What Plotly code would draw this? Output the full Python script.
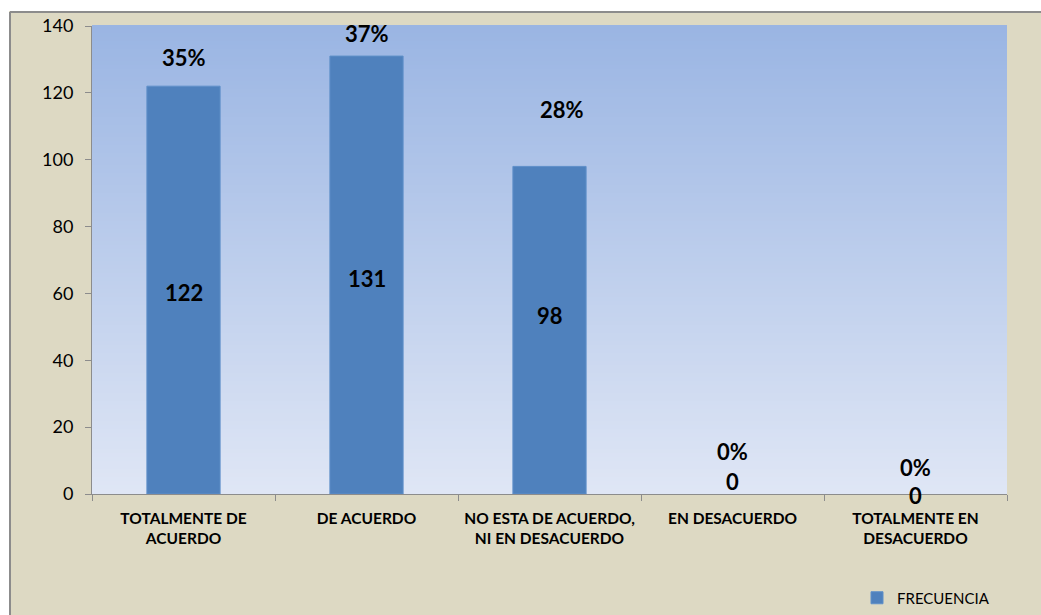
import plotly.graph_objects as go

# Survey answers and their counts
categories = [
    "TOTALMENTE DE<br>ACUERDO",
    "DE ACUERDO",
    "NO ESTA DE ACUERDO,<br>NI EN DESACUERDO",
    "EN DESACUERDO",
    "TOTALMENTE EN<br>DESACUERDO",
]
frecuencia = [122, 131, 98, 0, 0]
series_name = "FRECUENCIA"
y_ticks = [0, 20, 40, 60, 80, 100, 120, 140]

# Where the hand-placed labels sit (in axis units) and nudges (px)
pct_label_y = [130.7, 137.9, 114.9, 12.6, 7.8]
pct_label_dx = [0, 0, 12, 0, 0]
count_label_y = [60.4, 64.6, 53.5, 3.6, 0.0]
count_label_dy = [0, 0, 0, 0, -1]

total = sum(frecuencia)
porcentajes = [f"{round(v / total * 100)}%" for v in frecuencia]

FONT = "Lato, 'Open Sans', sans-serif"
BEIGE = "#DDD9C3"
BAR = "#4F81BD"

# Figure pixel geometry
W, H = 1041, 615
ML, MR, MT, MB = 92, 34, 26, 121
PW, PH = W - ML - MR, H - MT - MB


def px_x(x):
    return (x - ML) / PW


def px_y(y):
    return (H - MB - y) / PH


fig = go.Figure()
fig.add_trace(go.Bar(
    x=categories,
    y=frecuencia,
    name=series_name,
    width=0.4,
    marker=dict(color=BAR,
                line=dict(color="#5E8FC9", width=[1 if v > 0 else 0 for v in frecuencia])),
    showlegend=True,
))

shapes = []
# Vertical gradient in the plotting area
top_rgb = (154, 181, 227)
bot_rgb = (223, 230, 245)
n = 117
for i in range(n):
    t = i / (n - 1)
    c = tuple(round(top_rgb[k] + (bot_rgb[k] - top_rgb[k]) * t) for k in range(3))
    shapes.append(dict(
        type="rect", xref="paper", yref="paper",
        x0=0, x1=1, y0=1 - (i + 1) / n, y1=1 - i / n + 0.002,
        fillcolor=f"rgb{c}", line=dict(width=0), layer="below",
    ))

# White margin strips outside the chart frame and the frame lines
shapes.append(dict(type="rect", xref="paper", yref="paper",
                   x0=px_x(-5), x1=px_x(W + 5), y0=px_y(11), y1=px_y(-5),
                   fillcolor="white", line=dict(width=0), layer="below"))
shapes.append(dict(type="rect", xref="paper", yref="paper",
                   x0=px_x(-5), x1=px_x(9), y0=px_y(H + 5), y1=px_y(-5),
                   fillcolor="white", line=dict(width=0), layer="below"))
shapes.append(dict(type="line", xref="paper", yref="paper",
                   x0=px_x(10), x1=px_x(W + 5), y0=px_y(12), y1=px_y(12),
                   line=dict(color="#8C8C8C", width=2)))
shapes.append(dict(type="line", xref="paper", yref="paper",
                   x0=px_x(10), x1=px_x(10), y0=px_y(12), y1=px_y(H + 5),
                   line=dict(color="#8C8C8C", width=2)))

annotations = []
for i, cat in enumerate(categories):
    annotations.append(dict(
        x=cat, y=pct_label_y[i], xref="x", yref="y", text=porcentajes[i],
        showarrow=False, xshift=pct_label_dx[i],
        font=dict(family=FONT, size=22, color="black", weight="bold"),
    ))
    annotations.append(dict(
        x=cat, y=count_label_y[i], xref="x", yref="y", text=str(frecuencia[i]),
        showarrow=False, yshift=count_label_dy[i],
        font=dict(family=FONT, size=22, color="black", weight="bold"),
    ))

fig.update_layout(
    width=W, height=H,
    margin=dict(l=ML, r=MR, t=MT, b=MB, pad=0, autoexpand=False),
    paper_bgcolor=BEIGE,
    plot_bgcolor="rgba(0,0,0,0)",
    font=dict(family=FONT, color="black"),
    bargap=0.6,
    shapes=shapes,
    annotations=annotations,
    showlegend=True,
    legend=dict(
        x=px_x(857), y=px_y(598), xanchor="left", yanchor="middle",
        bgcolor="rgba(0,0,0,0)",
        font=dict(family=FONT, size=15, color="black"),
        itemwidth=30,
    ),
    xaxis=dict(
        showgrid=False, showline=True, linecolor="#8C8C8C", linewidth=1,
        ticks="outside", tickson="boundaries", ticklen=6, tickcolor="#8C8C8C",
        tickfont=dict(family=FONT, size=15.5, color="black", weight="bold"),
        ticklabelstandoff=10,
        automargin=False,
        fixedrange=True,
    ),
    yaxis=dict(
        range=[0, 140], tickvals=y_ticks, showgrid=False, zeroline=False,
        showline=True, linecolor="#8C8C8C", linewidth=1,
        ticks="outside", ticklen=6, tickcolor="#8C8C8C",
        tickfont=dict(family=FONT, size=18, color="black"),
        ticklabelstandoff=8,
        automargin=False,
        fixedrange=True,
    ),
)

fig.write_html("out.html")
